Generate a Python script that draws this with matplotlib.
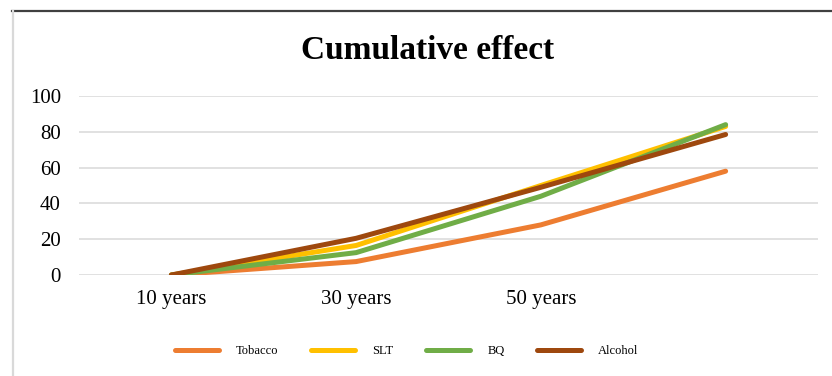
import numpy as np
import matplotlib
matplotlib.use("Agg")
import matplotlib.pyplot as plt
from matplotlib.lines import Line2D

# data
categories = ["10 years", "30 years", "50 years", ""]
tobacco = [0, 7.5, 28, 58]
slt = [0, 16.5, 50, 83]
bq = [0, 12.5, 44, 84]
alcohol = [0, 20.5, 49, 78.5]

series = [("Tobacco", tobacco, "#ED7D31"),
          ("SLT", slt, "#FFC000"),
          ("BQ", bq, "#70AD47"),
          ("Alcohol", alcohol, "#9E480E")]

plt.rcParams.update({"font.family": ["Liberation Serif", "DejaVu Serif"]})

fig = plt.figure(figsize=(8.32, 3.76), dpi=100)
ax = fig.add_axes([79/832, 1-275/376, (818-79)/832, (275-96)/376])

x = np.arange(len(categories))
for name, vals, col in series:
    ax.plot(x, vals, color=col, linewidth=3.6, label=name,
            solid_capstyle="round", solid_joinstyle="round")

ax.set_xlim(-0.5, len(categories) - 0.5)
ax.set_ylim(0, 100)
ax.set_yticks(np.arange(0, 101, 20))
ax.set_xticks(x)
ax.set_xticklabels(categories)
ax.tick_params(axis="both", length=0, labelsize=15)
ax.tick_params(axis="y", pad=13)
ax.tick_params(axis="x", pad=11)
for s in ax.spines.values():
    s.set_visible(False)
ax.grid(axis="y", color="#D9D9D9", linewidth=1.1)
ax.set_axisbelow(True)

fig.text(0.514, 1-59/376, "Cumulative effect", ha="center", va="baseline",
         fontsize=24, fontweight="bold")

leg = fig.legend(loc="center", bbox_to_anchor=(0.489, 1-351/376), ncol=4,
                 frameon=False, fontsize=9, handlelength=3.5, handletextpad=1.4,
                 columnspacing=2.6)
for h in leg.legend_handles:
    h.set_linewidth(3.6)

# chart border
fig.add_artist(Line2D([12/832, 1], [1-10.5/376, 1-10.5/376], color="#404040", linewidth=1.6))
fig.add_artist(Line2D([12.5/832, 12.5/832], [0, 1-11/376], color="#D9D9D9", linewidth=1.6))

fig.savefig("out.png", dpi=100)
